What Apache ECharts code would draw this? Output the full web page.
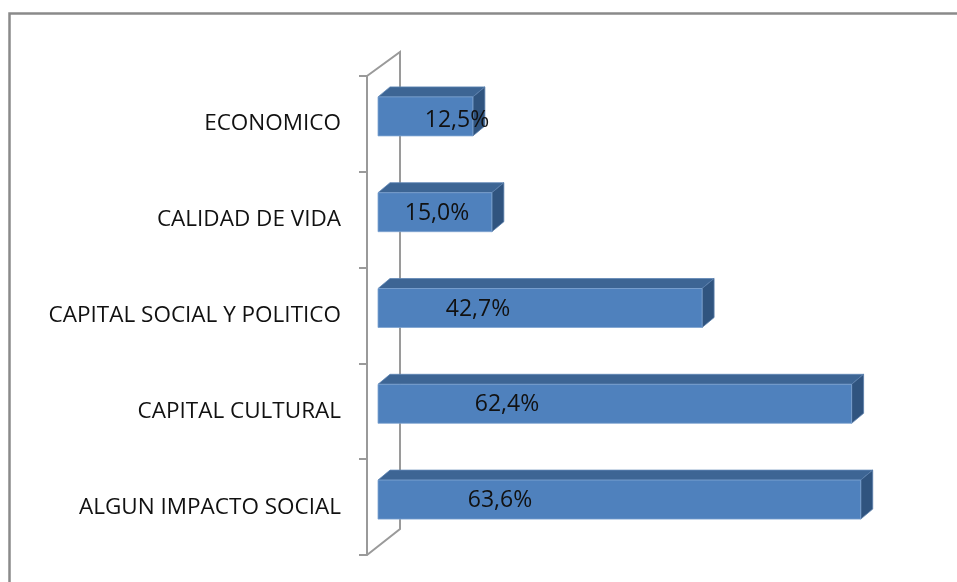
<!DOCTYPE html>
<html>
<head>
<meta charset="utf-8">
<script src="https://cdn.jsdelivr.net/npm/echarts@6/dist/echarts.min.js"></script>
<style>
  html, body { margin: 0; padding: 0; background: #fff; }
  #chart { width: 957px; height: 582px; }
</style>
</head>
<body>
<div id="chart"></div>
<script>
var categories = ['ECONOMICO', 'CALIDAD DE VIDA', 'CAPITAL SOCIAL Y POLITICO', 'CAPITAL CULTURAL', 'ALGUN IMPACTO SOCIAL'];
var values = [12.5, 15.0, 42.7, 62.4, 63.6];
var valueLabels = ['12,5%', '15,0%', '42,7%', '62,4%', '63,6%'];

// excel puts the 3d labels a bit randomly, nudge from bar start (px)
var labelNudge = [79, 59, 100, 129, 122];

var pxPerUnit = 7.59;
var axisGap = 11; // gap between wall line and the bars' front
var gridLeft = 367, gridTop = 76, gridBottom = 27, gridRight = 47.7;
var depthX = 12, depthY = 10;

var chart = echarts.init(document.getElementById('chart'), null, { renderer: 'canvas' });

function renderBar(params, api) {
  var idx = params.dataIndex;
  var start = api.coord([0, idx]);
  var end = api.coord([api.value(0), idx]);
  var cy = start[1] - 7.5;
  var h = 39;
  var x0 = start[0], x1 = end[0];
  var yt = cy - h / 2, yb = cy + h / 2;
  return {
    type: 'group',
    children: [
      {
        type: 'polygon',
        shape: { points: [[x0, yt], [x0 + depthX, yt - depthY], [x1 + depthX, yt - depthY], [x1, yt]] },
        style: { fill: '#3d6594', stroke: '#5f86b5', lineWidth: 0.8 }
      },
      {
        type: 'polygon',
        shape: { points: [[x1, yt], [x1 + depthX, yt - depthY], [x1 + depthX, yb - depthY], [x1, yb]] },
        style: { fill: '#30547f', stroke: '#5a7fab', lineWidth: 0.8 }
      },
      {
        type: 'rect',
        shape: { x: x0, y: yt, width: x1 - x0, height: h },
        style: { fill: '#4f81bd', stroke: '#7ea3d1', lineWidth: 0.8 }
      },
      {
        type: 'text',
        x: x0 + labelNudge[idx],
        y: cy + (idx === 0 ? 4 : 1),
        style: {
          text: valueLabels[idx],
          fill: '#111',
          font: '23px "Open Sans"',
          align: 'center',
          verticalAlign: 'middle'
        }
      }
    ]
  };
}

var option = {
  animation: false,
  grid: { left: gridLeft, right: gridRight, top: gridTop, bottom: gridBottom },
  xAxis: {
    type: 'value',
    min: -axisGap / pxPerUnit,
    max: 70,
    show: false
  },
  yAxis: {
    type: 'category',
    data: categories,
    inverse: true,
    axisLine: { show: true, onZero: false, lineStyle: { color: '#9a9a9a', width: 2 } },
    axisTick: { show: true, length: 8, lineStyle: { color: '#9a9a9a', width: 2 } },
    axisLabel: {
      margin: 26,
      color: '#111',
      fontFamily: 'Open Sans',
      fontSize: 22.5
    },
    splitLine: { show: false }
  },
  graphic: [
    {
      type: 'rect',
      z: 0,
      shape: { x: 9.5, y: 13.5, width: 980, height: 600 },
      style: { fill: 'none', stroke: '#8a8a8a', lineWidth: 2.5 }
    },
    {
      type: 'polyline',
      z: 0,
      shape: { points: [[gridLeft, gridTop], [gridLeft + 33, gridTop - 24], [gridLeft + 33, 582 - gridBottom - 26], [gridLeft, 582 - gridBottom]] },
      style: { fill: 'none', stroke: '#9a9a9a', lineWidth: 2 }
    }
  ],
  series: [{
    type: 'custom',
    renderItem: renderBar,
    encode: { x: 0, y: 1 },
    data: values.map(function (v, i) { return [v, i]; }),
    z: 5
  }]
};

chart.setOption(option);
</script>
</body>
</html>
